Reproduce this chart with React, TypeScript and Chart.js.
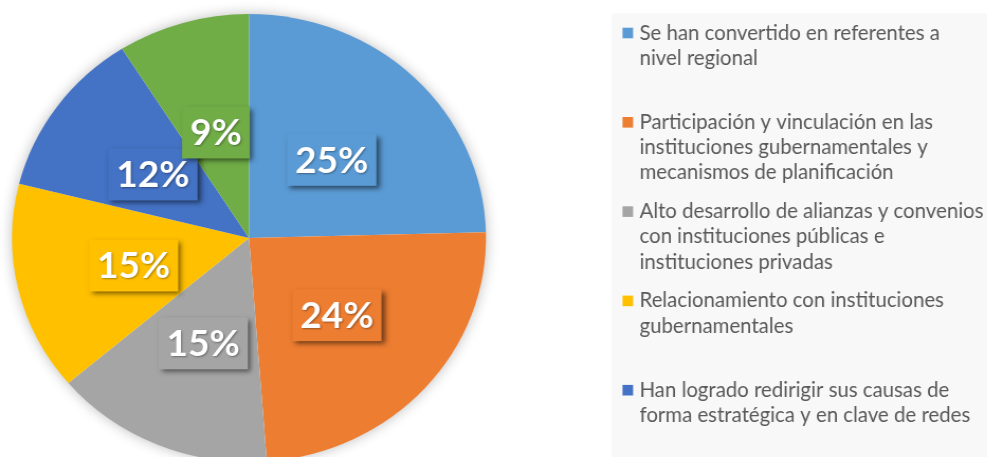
import React, { useEffect, useRef } from "react";
import { Chart, registerables } from "chart.js";

Chart.register(...registerables);

const categories: string[][] = [
  ["Se han convertido en referentes a", "nivel regional"],
  ["Participación y vinculación en las", "instituciones gubernamentales y", "mecanismos de planificación"],
  ["Alto desarrollo de alianzas y convenios", "con instituciones públicas e", "instituciones privadas"],
  ["Relacionamiento con instituciones", "gubernamentales"],
  ["Han logrado redirigir sus causas de", "forma estratégica y en clave de redes"],
  ["Otros"],
];
const values: number[] = [24.6, 24.2, 15.0, 15.1, 12.1, 9.0];
const colors: string[] = ["#5B9BD5", "#ED7D31", "#A5A5A5", "#FFC000", "#4472C4", "#70AD47"];

const K = 1.058; // horizontal stretch of the whole picture
const CSS_W = 987;
const PX_W = Math.round(CSS_W / K);
const PX_H = 520;
const RADIUS = 224;
const CX_CSS = 249;
const CY = 238;

const LABEL_FONT = "bold 37px Lato, 'Open Sans', sans-serif";
const LEGEND_FONT = "20.4px Lato, 'Open Sans', sans-serif";

export default function App() {
  const ref = useRef<HTMLCanvasElement | null>(null);

  useEffect(() => {
    if (!ref.current) return;
    const total = values.reduce((a, b) => a + b, 0);

    const shadowPlugin = {
      id: "pieShadow",
      beforeDatasetsDraw(chart: any) {
        const arc = chart.getDatasetMeta(0).data[0];
        if (!arc) return;
        const ctx = chart.ctx;
        ctx.save();
        ctx.shadowColor = "rgba(0,0,0,0.30)";
        ctx.shadowBlur = 14;
        ctx.fillStyle = "#ffffff";
        ctx.beginPath();
        ctx.arc(arc.x, arc.y, arc.outerRadius - 1, 0, Math.PI * 2);
        ctx.fill();
        ctx.restore();
      },
    };

    const labelPlugin = {
      id: "boxLabels",
      afterDatasetsDraw(chart: any) {
        const ctx = chart.ctx;
        const meta = chart.getDatasetMeta(0);
        meta.data.forEach((arc: any, i: number) => {
          const p = arc.tooltipPosition();
          const txt = Math.round((values[i] / total) * 100) + "%";
          ctx.save();
          ctx.translate(p.x, p.y + 2);
          ctx.scale(1 / K, 1);
          ctx.font = LABEL_FONT;
          const w = ctx.measureText(txt).width + 16;
          const h = 52;
          ctx.shadowColor = "rgba(0,0,0,0.55)";
          ctx.shadowBlur = 5;
          ctx.shadowOffsetX = 3;
          ctx.shadowOffsetY = 3;
          ctx.fillStyle = colors[i];
          ctx.fillRect(-w / 2, -h / 2, w, h);
          ctx.shadowColor = "rgba(0,0,0,0.35)";
          ctx.shadowBlur = 2;
          ctx.shadowOffsetX = 1;
          ctx.shadowOffsetY = 1;
          ctx.fillStyle = "#ffffff";
          ctx.textAlign = "center";
          ctx.textBaseline = "middle";
          ctx.fillText(txt, 0, 1);
          ctx.restore();
        });
      },
    };

    const legendPlugin = {
      id: "slotLegend",
      afterDraw(chart: any) {
        const ctx = chart.ctx;
        ctx.save();
        ctx.scale(1 / K, 1);
        ctx.fillStyle = "#f8f8f8";
        ctx.fillRect(611.5, 13.5, 400, 500);
        ctx.font = LEGEND_FONT;
        ctx.textBaseline = "middle";
        ctx.textAlign = "left";
        categories.forEach((lines, i) => {
          const top = 33 + 89.3 * i;
          ctx.fillStyle = colors[i];
          ctx.fillRect(622.5, top - 5.3, 10.6, 10.6);
          ctx.fillStyle = "#595959";
          lines.forEach((ln, j) => ctx.fillText(ln, 639.5, top + j * 25.3));
        });
        ctx.restore();
      },
    };

    const left = CX_CSS / K - RADIUS;
    const top = CY - RADIUS;
    const chart = new Chart(ref.current, {
      type: "pie",
      data: {
        labels: categories.map((c) => c.join(" ")),
        datasets: [
          {
            data: values,
            backgroundColor: colors,
            borderWidth: 0,
            hoverOffset: 0,
          },
        ],
      },
      options: {
        animation: false,
        responsive: false,
        maintainAspectRatio: false,
        events: [],
        layout: {
          padding: {
            left,
            top,
            right: PX_W - left - RADIUS * 2,
            bottom: PX_H - top - RADIUS * 2,
          },
        },
        plugins: {
          legend: { display: false },
          tooltip: { enabled: false },
        },
      },
      plugins: [shadowPlugin, labelPlugin, legendPlugin],
    });
    return () => chart.destroy();
  }, []);

  return (
    <div
      style={{
        position: "fixed",
        left: 0,
        top: 0,
        width: CSS_W,
        height: 457,
        overflow: "hidden",
        background: "#ffffff",
      }}
    >
      <div style={{ width: PX_W, height: PX_H, transform: `scaleX(${K})`, transformOrigin: "0 0" }}>
        <canvas ref={ref} width={PX_W} height={PX_H} style={{ display: "block" }} />
      </div>
    </div>
  );
}
